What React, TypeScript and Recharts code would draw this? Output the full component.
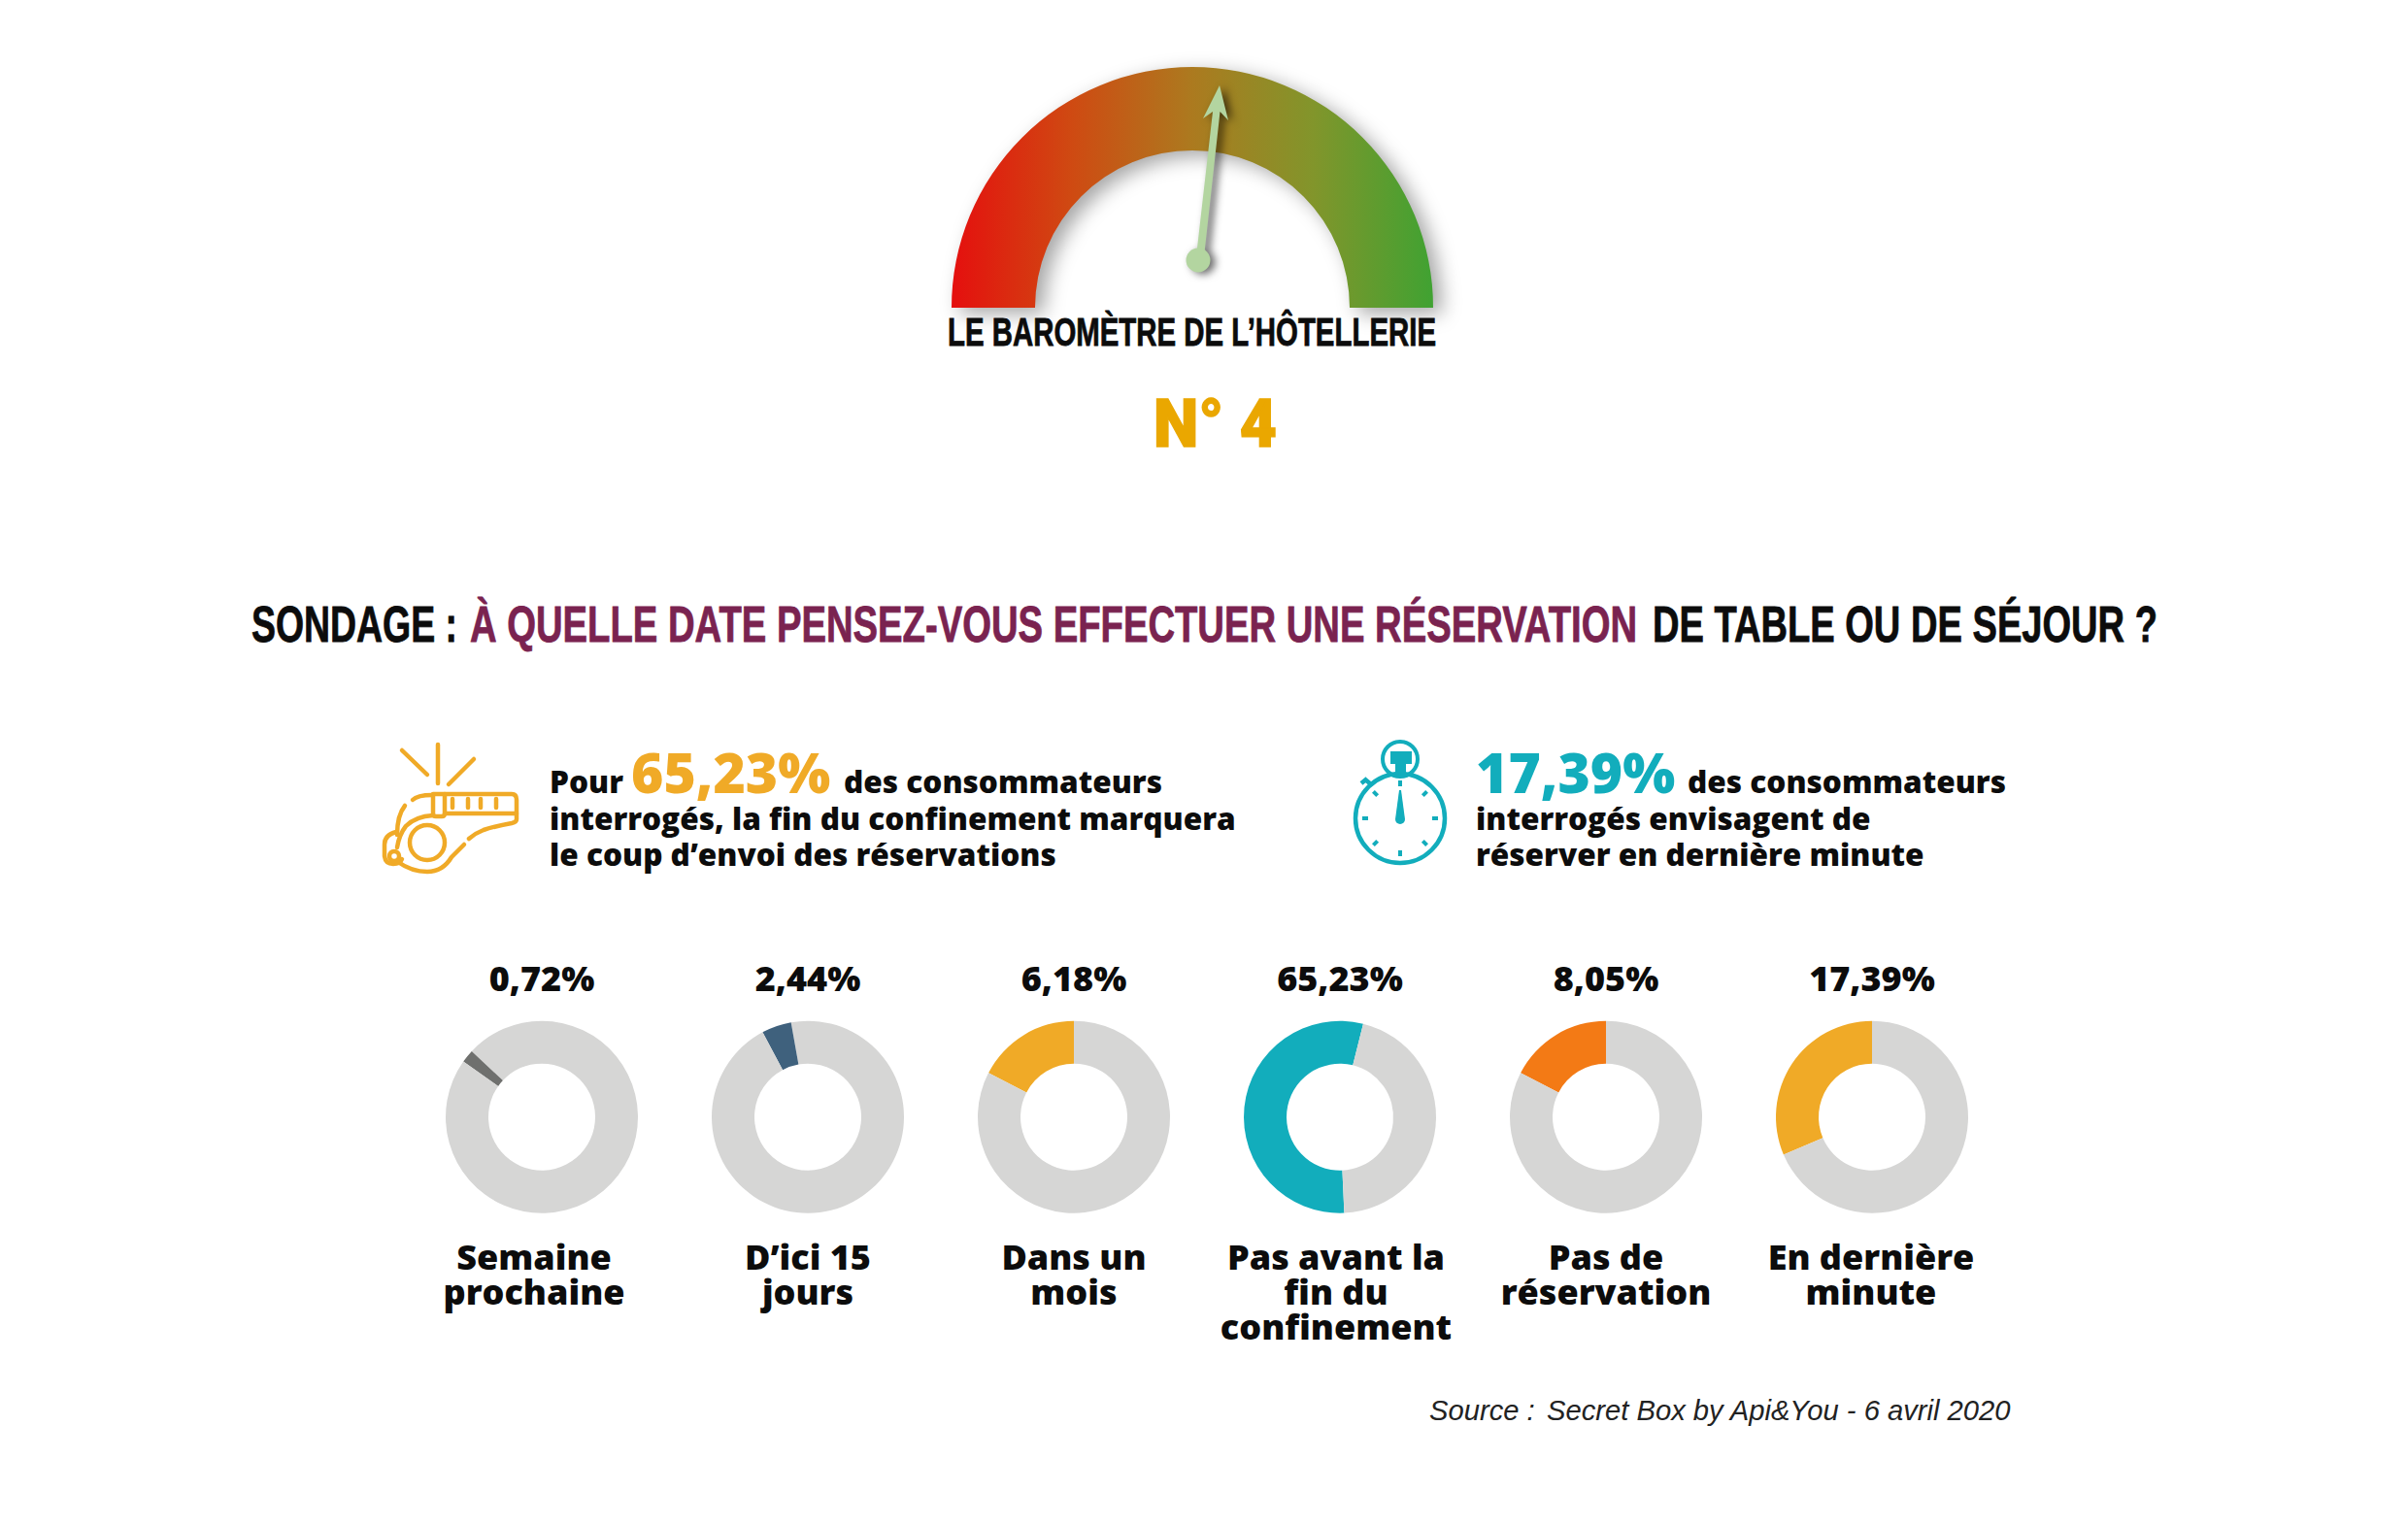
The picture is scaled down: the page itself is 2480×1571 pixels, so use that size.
import { PieChart, Pie, Cell } from "recharts";

const WIDTH = 2480;
const HEIGHT = 1571;

// printed figures
const printedValues = ["0,72%", "2,44%", "6,18%", "65,23%", "8,05%", "17,39%"];
const categoryLines = [
  ["Semaine", "prochaine"],
  ["D\u2019ici 15", "jours"],
  ["Dans un", "mois"],
  ["Pas avant la", "fin du", "confinement"],
  ["Pas de", "r\u00e9servation"],
  ["En derni\u00e8re", "minute"],
];

// the rings in the picture are not drawn to the printed figures, so these are read off the arcs (% of ring)
const arcLead = [13, 2.8, 0, 0, 0, 0];
const arcShown = [2.2, 5, 17.4, 54.6, 17.4, 31.4];
const arcStartAngle = [90, 90, 90, 76, 90, 90];
const arcColors = ["#6f706e", "#3f617d", "#f0aa27", "#12adbc", "#f37a15", "#f0aa27"];

const gaugeArc = [100];

const RING_GREY = "#d6d6d5";
const ringCenters = [558, 832, 1106, 1380, 1654, 1928];
const labelCenters = [550, 832, 1106, 1376, 1654, 1927];
const BLACK = "#0c0c0c";
const AMBER = "#f0aa27";
const TEAL = "#12adbc";
const PLUM = "#7a2350";

const noMargin = { top: 0, right: 0, bottom: 0, left: 0 };
const openSans = { fontFamily: "'Open Sans'", fontWeight: 800 };
// no condensed face installed, so the headings get squeezed with textLength
const headline = { fontFamily: "'Liberation Sans'", fontWeight: 700 };

function Whistle() {
  const s = { fill: "none", stroke: AMBER, strokeWidth: 4.5, strokeLinecap: "round" as const, strokeLinejoin: "round" as const };
  return (
    <g {...s}>
      <path d="M414 773L440 798M451 767V807M488 782L462 808" />
      <path d="M458 818H527Q532 818 532 824V844Q532 847 527 848Q510 851 498 855Q490 858 483 864" />
      <path d="M458 838H532" />
      <path d="M446 818H458V838Q458 841 455 841H449Q446 841 446 838Z" />
      <path d="M445 819Q430 819 425 824" />
      <path d="M417 830Q409 840 409 860" />
      <path d="M446 840Q428 841 418 851Q411 860 409 873" />
      <path d="M478 870Q470 878 465 883Q456 898 440 898Q424 898 410 888" />
      <path d="M408 857Q396 860 396 870V882Q397 890 405 890Q412 890 414 885" />
      <path d="M466 823V832M482 823V832M495 823V832M511 823V832" />
      <circle cx={440} cy={868} r={18} />
      <circle cx={406} cy={882} r={5} />
    </g>
  );
}

function Stopwatch() {
  const ticks = [0, 45, 90, 135, 180, 225, 270, 315];
  return (
    <g>
      <circle cx={1442} cy={843} r={46} fill="none" stroke={TEAL} strokeWidth={4.5} />
      <circle cx={1442} cy={782} r={18} fill="none" stroke={TEAL} strokeWidth={4} />
      <path d="M1432 774H1454V787H1448V797H1437V787H1432Z" fill={TEAL} />
      <path d="M1402 807L1408 802M1406 803L1412 808" stroke={TEAL} strokeWidth={4.5} fill="none" />
      <path d="M1441 814H1443L1447 844A5 5 0 0 1 1437 844Z" fill={TEAL} />
      {ticks.map((a) => (
        <rect key={a} x={1440} y={804} width={4} height={6} fill={TEAL} transform={`rotate(${a} 1442 843)`} />
      ))}
    </g>
  );
}

export default function App() {
  return (
    <div style={{ position: "absolute", left: 0, top: 0, width: WIDTH, height: HEIGHT, background: "#fff", overflow: "hidden" }}>
      <div style={{ position: "absolute", left: 0, top: 0, filter: "drop-shadow(9px 6px 10px rgba(0,0,0,0.35))" }}>
        <PieChart width={WIDTH} height={340} margin={noMargin}>
          <defs>
            <linearGradient id="gauge" x1="0" y1="0" x2="1" y2="0">
              <stop offset="0%" stopColor="#e50f0e" />
              <stop offset="25%" stopColor="#cf4a12" />
              <stop offset="50%" stopColor="#ac7a1f" />
              <stop offset="75%" stopColor="#82952b" />
              <stop offset="100%" stopColor="#40a232" />
            </linearGradient>
          </defs>
          <Pie
            data={gaugeArc.map((value) => ({ value }))}
            dataKey="value"
            cx={1228}
            cy={317}
            innerRadius={162}
            outerRadius={248}
            startAngle={180}
            endAngle={0}
            stroke="none"
            fill="url(#gauge)"
            isAnimationActive={false}
          />
        </PieChart>
      </div>

      <div style={{ position: "absolute", left: 0, top: 1000 }}>
        <PieChart width={WIDTH} height={300} margin={noMargin}>
          {ringCenters.map((cx, i) => (
            <Pie
              key={cx}
              data={[
                { name: "lead", value: arcLead[i] },
                { name: printedValues[i], value: arcShown[i] },
                { name: "rest", value: 100 - arcLead[i] - arcShown[i] },
              ]}
              dataKey="value"
              cx={cx}
              cy={150.7}
              innerRadius={55}
              outerRadius={99}
              startAngle={arcStartAngle[i]}
              endAngle={arcStartAngle[i] + 360}
              stroke="none"
              isAnimationActive={false}
            >
              <Cell fill={RING_GREY} />
              <Cell fill={arcColors[i]} />
              <Cell fill={RING_GREY} />
            </Pie>
          ))}
        </PieChart>
      </div>

      <svg width={WIDTH} height={HEIGHT} style={{ position: "absolute", left: 0, top: 0 }}>
        <g style={{ filter: "drop-shadow(5px 2px 4px rgba(0,0,0,0.6))" }} fill="#b3d5a0">
          <path d="M1256 88L1265 124L1256.5 115L1240.5 260H1232.5L1249 115L1239 122Z" />
          <circle cx={1234} cy={268} r={12.5} />
        </g>

        <text x={976} y={356} fontSize={40} fill={BLACK} stroke={BLACK} strokeWidth={0.8} textLength={503} lengthAdjust="spacingAndGlyphs" style={headline}>
          LE BAROMÈTRE DE L’HÔTELLERIE
        </text>
        <text x={1188} y={460} fontSize={69} fill="#eaa700" stroke="#eaa700" strokeWidth={1.5} textLength={127} lengthAdjust="spacingAndGlyphs" style={{ fontFamily: "Roboto", fontWeight: 900 }}>
          N° 4
        </text>

        <g fontSize={52} stroke="currentColor" strokeWidth={0.8} style={headline}>
          <text x={259} y={661} fill={BLACK} color={BLACK} textLength={212} lengthAdjust="spacingAndGlyphs">SONDAGE :</text>
          <text x={484} y={661} fill={PLUM} color={PLUM} textLength={1202} lengthAdjust="spacingAndGlyphs">À QUELLE DATE PENSEZ-VOUS EFFECTUER UNE RÉSERVATION</text>
          <text x={1702} y={661} fill={BLACK} color={BLACK} textLength={520} lengthAdjust="spacingAndGlyphs">DE TABLE OU DE SÉJOUR ?</text>
        </g>

        <Whistle />
        <g fill={BLACK} fontSize={31.55} style={openSans}>
          <text x={566} y={816.5}>Pour</text>
          <text x={650} y={817} fontSize={57} fill={AMBER}>65,23%</text>
          <text x={869} y={816.5}>des consommateurs</text>
          <text x={566} y={854.5}>interrogés, la fin du confinement marquera</text>
          <text x={566} y={891.5}>le coup d’envoi des réservations</text>
        </g>

        <Stopwatch />
        <g fill={BLACK} fontSize={31.55} style={openSans}>
          <text x={1520} y={817} fontSize={57} fill={TEAL}>17,39%</text>
          <text x={1738} y={816.5}>des consommateurs</text>
          <text x={1520} y={854.5}>interrogés envisagent de</text>
          <text x={1520} y={891.5}>réserver en dernière minute</text>
        </g>

        <g fill={BLACK} textAnchor="middle" style={openSans}>
          {printedValues.map((v, i) => (
            <text key={v} x={ringCenters[i]} y={1021} fontSize={36}>{v}</text>
          ))}
          {categoryLines.map((lines, i) =>
            lines.map((line, j) => (
              <text key={line} x={labelCenters[i]} y={1308 + j * 36} fontSize={36}>{line}</text>
            ))
          )}
        </g>

        <g fontSize={29.2} fill="#222" style={{ fontFamily: "'Liberation Sans'", fontStyle: "italic" }}>
          <text x={1472} y={1463}>Source :</text>
          <text x={1593} y={1463}>Secret Box by Api&amp;You - 6 avril 2020</text>
        </g>
      </svg>
    </div>
  );
}
